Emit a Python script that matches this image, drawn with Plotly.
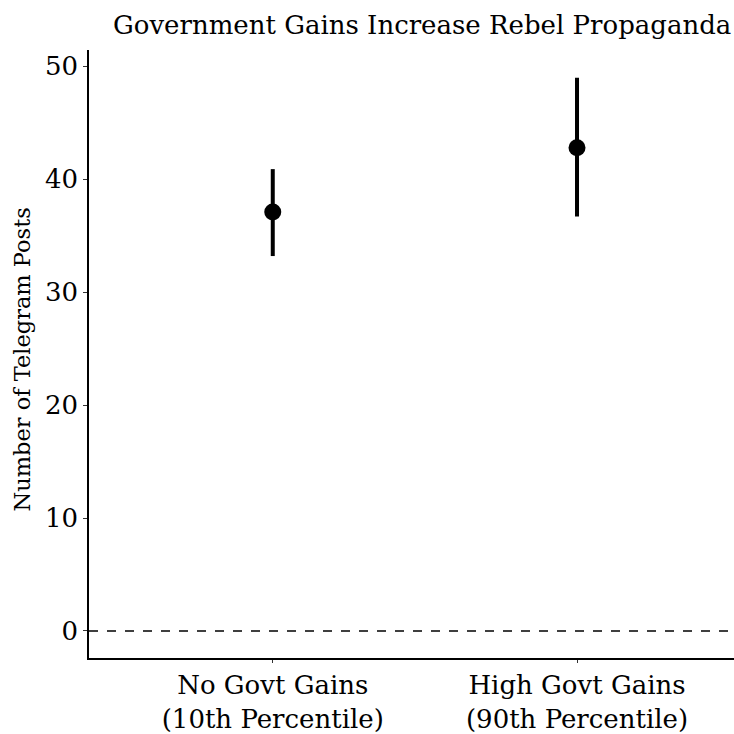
import plotly.graph_objects as go

categories = ["No Govt Gains<br>(10th Percentile)", "High Govt Gains<br>(90th Percentile)"]
estimates = [37.1, 42.8]
lower = [33.2, 36.7]
upper = [40.9, 49.0]
y_ticks = [0, 10, 20, 30, 40, 50]

FONT = "DejaVu Serif"
x_pos = list(range(1, len(categories) + 1))

fig = go.Figure()
fig.add_trace(go.Scatter(
    x=x_pos, y=estimates, mode="markers",
    marker=dict(size=17, color="black"),
    error_y=dict(type="data", symmetric=False,
                 array=[u - e for u, e in zip(upper, estimates)],
                 arrayminus=[e - l for e, l in zip(estimates, lower)],
                 thickness=4, width=0, color="black"),
    showlegend=False, hoverinfo="skip",
))

fig.add_shape(type="line", xref="paper", yref="y", x0=0, x1=1, y0=0, y1=0,
              line=dict(color="black", width=1.5, dash="dash"), layer="below")

fig.update_layout(
    width=734, height=734,
    margin=dict(l=89, r=0, t=50, b=73),
    paper_bgcolor="white", plot_bgcolor="white",
    font=dict(family=FONT, color="black"),
    annotations=[
        dict(text="Government Gains Increase Rebel Propaganda",
             xref="paper", yref="paper", x=1, y=1, yshift=25, xshift=-1,
             xanchor="right", yanchor="middle", showarrow=False,
             font=dict(family=FONT, size=26, color="black")),
        dict(text="Number of Telegram Posts", textangle=-90,
             xref="paper", yref="paper", x=0, y=0.491, xshift=-67,
             xanchor="center", yanchor="middle", showarrow=False,
             font=dict(family=FONT, size=22.5, color="black")),
    ],
    xaxis=dict(range=[0.396, 2.516], tickvals=x_pos, ticktext=categories,
               showline=True, linecolor="black", linewidth=1.5,
               ticks="outside", ticklen=3, tickcolor="#333", tickwidth=1,
               showgrid=False, zeroline=False,
               tickfont=dict(family=FONT, size=26, color="black")),
    yaxis=dict(range=[-2.4, 51.45], tickvals=y_ticks,
               showline=True, linecolor="black", linewidth=1.5,
               ticks="outside", ticklen=4, tickcolor="#333", tickwidth=1,
               showgrid=False, zeroline=False,
               tickfont=dict(family=FONT, size=26, color="black")),
)

fig.write_html("out.html", config={"displayModeBar": False},
               post_script="document.body.style.margin='0';document.body.style.overflow='hidden';")
